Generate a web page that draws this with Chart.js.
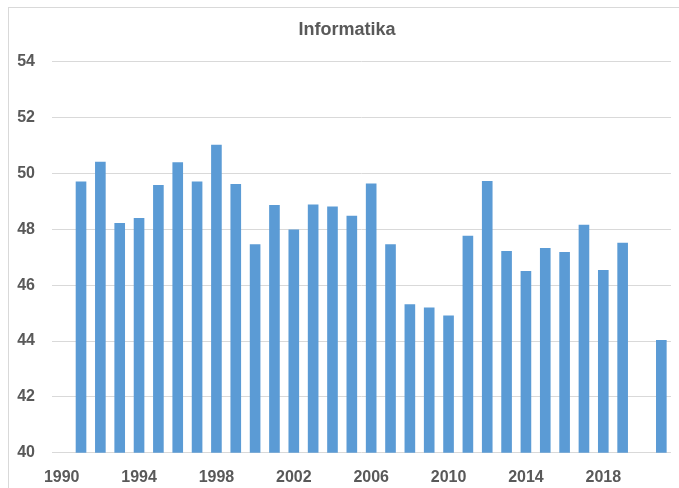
<!DOCTYPE html>
<html>
<head>
<meta charset="utf-8">
<script src="https://cdn.jsdelivr.net/npm/chart.js@4"></script>
<style>
  html, body { margin: 0; padding: 0; background: #fff; overflow: hidden; }
  #frame {
    position: absolute; left: 8px; top: 7px;
    border-left: 1px solid #d9d9d9; border-top: 1px solid #d9d9d9;
  }
  canvas { display: block; }
</style>
</head>
<body>
<div id="frame"><canvas id="chart" width="676" height="500"></canvas></div>
<script>
const years = [1990, 1991, 1992, 1993, 1994, 1995, 1996, 1997, 1998, 1999,
    2000, 2001, 2002, 2003, 2004, 2005, 2006, 2007, 2008, 2009,
    2010, 2011, 2012, 2013, 2014, 2015, 2016, 2017, 2018, 2019,
    2020, 2021]
const scores = [null, 49.71, 50.42, 48.22, 48.40, 49.58, 50.40, 49.71, 51.02, 49.62,
    47.46, 48.87, 47.99, 48.89, 48.81, 48.48, 49.64, 47.46, 45.32, 45.20,
    44.91, 47.77, 49.73, 47.22, 46.51, 47.33, 47.19, 48.16, 46.54, 47.52,
    null, 44.04]
const yTicks = [40, 42, 44, 46, 48, 50, 52, 54]

const textColor = "#595959"
const font = "'Liberation Sans', Arial, sans-serif"

let ctx = document.getElementById("chart").getContext("2d")
new Chart(ctx, {
    type: "bar",
    data: {
        labels: years,
        datasets: [
            {
                label: "Informatika",
                data: scores,
                backgroundColor: "#5b9bd5",
                barPercentage: 0.55,
                categoryPercentage: 1,
            },
        ],
    },
    options: {
        responsive: false,
        animation: false,
        layout: {
            padding: { left: 0, right: 0, top: 0, bottom: 14 },
        },
        plugins: {
            legend: { display: false },
            tooltip: { enabled: false },
            title: {
                display: true,
                text: "Informatika",
                color: textColor,
                font: { family: font, size: 18, weight: "bold" },
                padding: { top: 11, bottom: 21 },
            },
        },
        scales: {
            x: {
                grid: { display: false },
                border: { display: false },
                ticks: {
                    autoSkip: false,
                    maxRotation: 0,
                    padding: 7,
                    color: textColor,
                    font: { family: font, size: 16, weight: "bold" },
                    callback: function (value, index) {
                        return index % 4 === 0 ? years[index] : ""
                    },
                },
            },
            y: {
                min: yTicks[0],
                max: yTicks[yTicks.length - 1],
                afterFit: function (scale) { scale.width = 43 },
                afterBuildTicks: function (scale) {
                    scale.ticks = yTicks.map(v => ({ value: v }))
                },
                grid: { color: "#d9d9d9", drawTicks: false },
                border: { display: false },
                ticks: {
                    padding: 17,
                    color: textColor,
                    font: { family: font, size: 16, weight: "bold" },
                },
            },
            // empty right-side box so the plot stops short of the frame edge
            spacer: {
                type: "linear",
                position: "right",
                afterFit: function (scale) { scale.width = 14 },
                grid: { display: false },
                border: { display: false },
                ticks: { display: false },
            },
        },
    },
});
</script>
</body>
</html>
